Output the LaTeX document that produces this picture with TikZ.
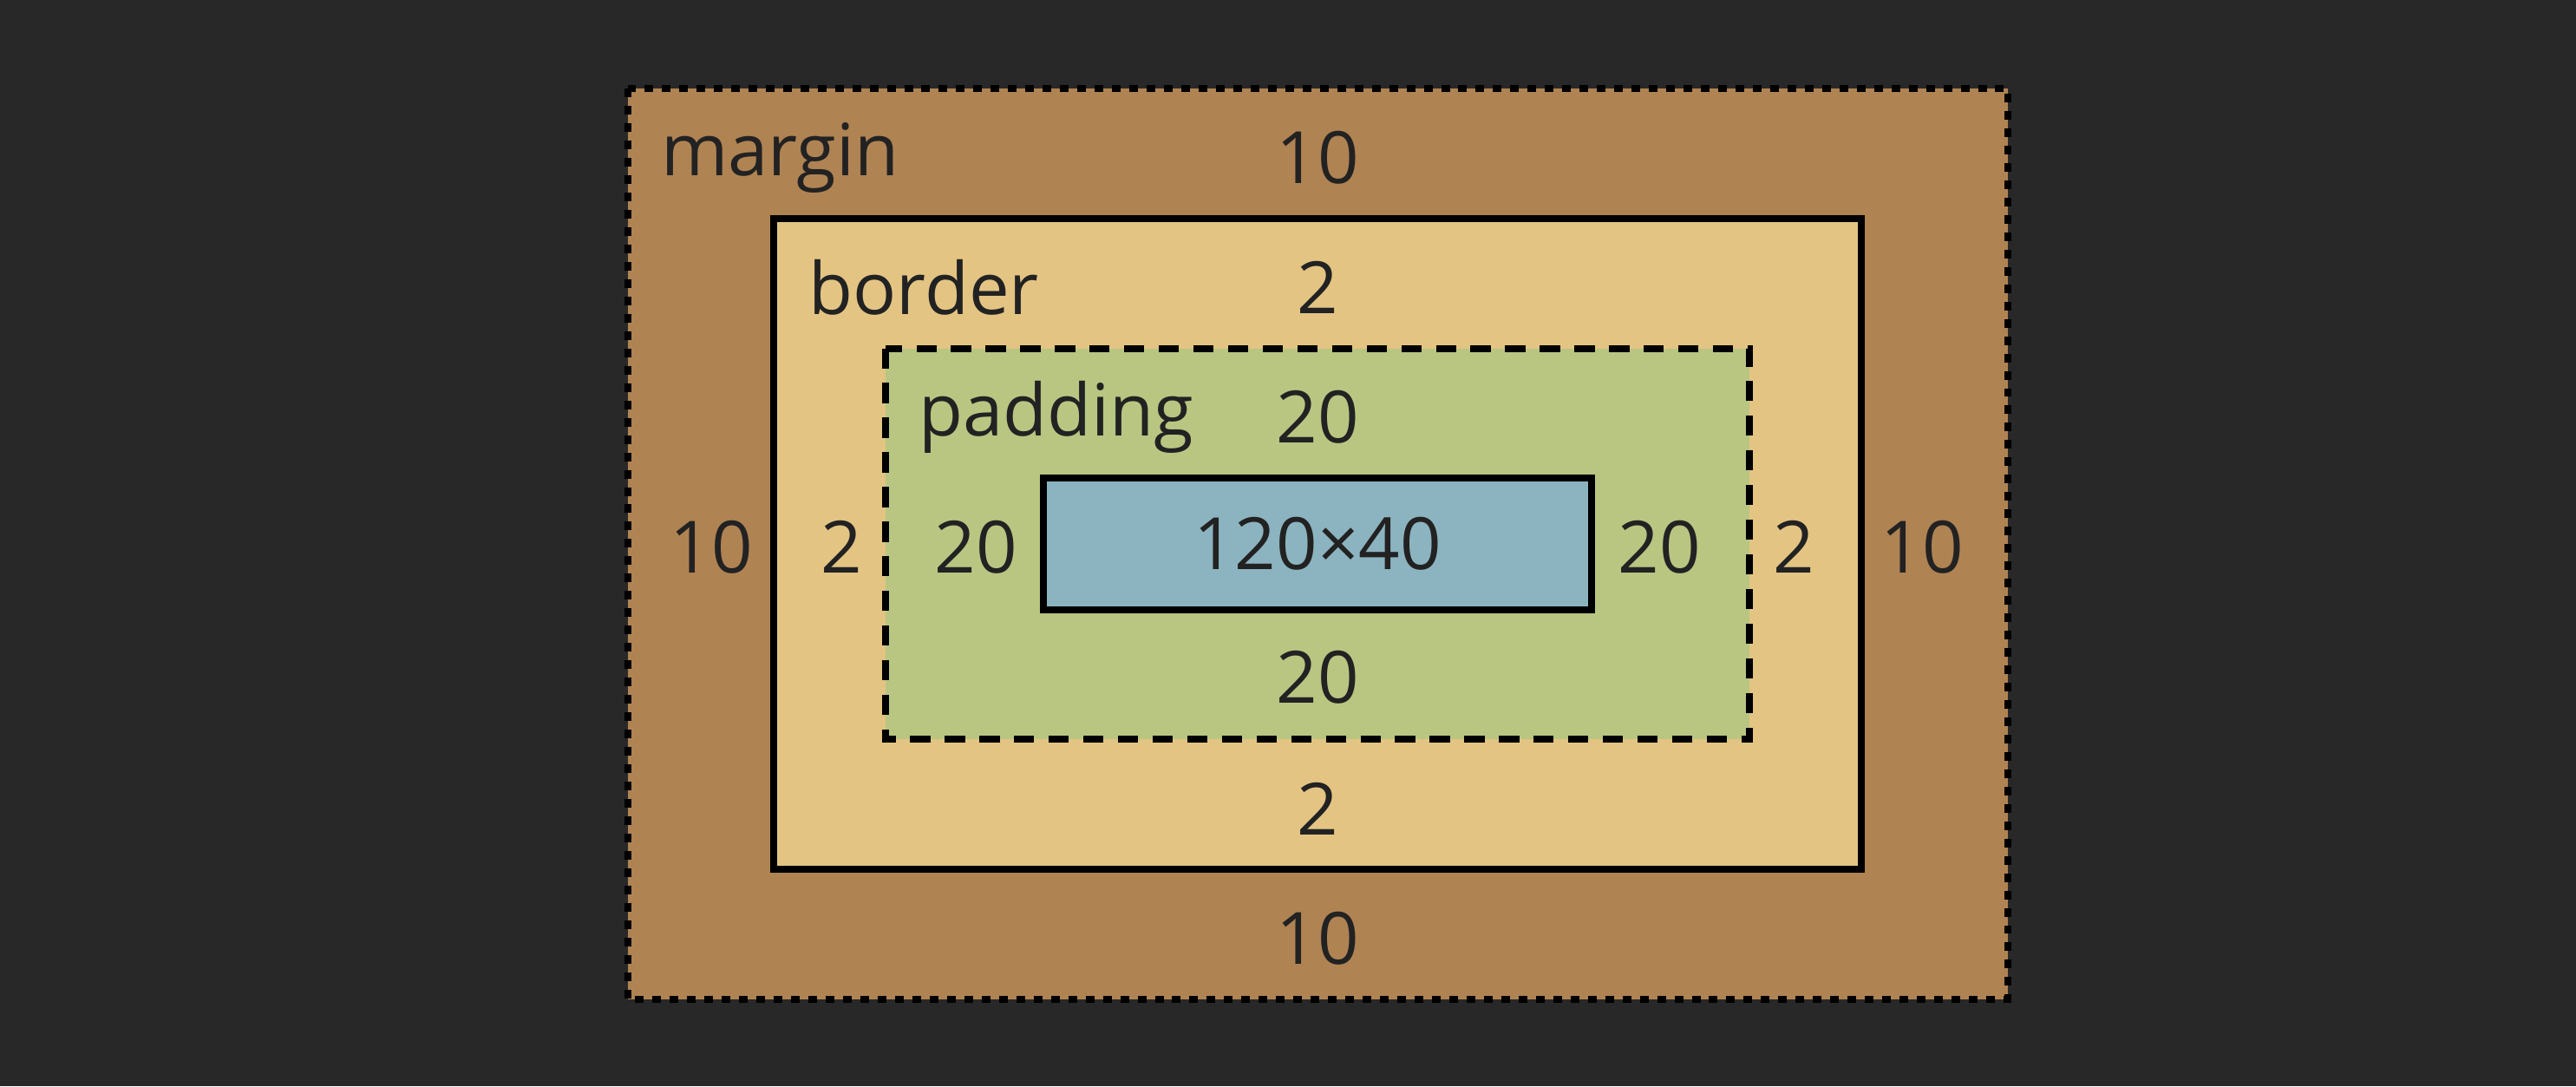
\documentclass[tikz,border=0pt]{standalone}
\usepackage{fontspec}
\setmainfont{Open Sans}
\definecolor{bg}{HTML}{282828}
\definecolor{mcol}{HTML}{B08353}
\definecolor{bcol}{HTML}{E3C483}
\definecolor{pcol}{HTML}{B8C682}
\definecolor{ccol}{HTML}{8CB4C0}
\definecolor{txt}{HTML}{222222}
\begin{document}
\begin{tikzpicture}[x=0.02cm,y=-0.02cm,
  lbl/.style={text=txt,font=\fontsize{25}{30}\selectfont,inner sep=0pt},
  box/.style={draw=black,line width=2.4pt}]
\fill[bg] (0,0) rectangle (1568,661);
\useasboundingbox (0,0) rectangle (1568,661);
\draw[box,fill=mcol,dash pattern=on 3pt off 3pt] (382,54) rectangle (1222,608);
\draw[box,fill=bcol] (471,133) rectangle (1133,529);
\draw[box,fill=pcol,dash pattern=on 7pt off 5pt] (539,212) rectangle (1065,450);
\node[box,fill=ccol,minimum width=334*0.02cm,minimum height=80*0.02cm,inner sep=0pt] (content) at (802,331) {};
\node[lbl] (c) at (content) {120×40};
\node[lbl,anchor=west] (ml) at (402,96) {margin};
\node[lbl,anchor=west] (bl) at (492,175) {border};
\node[lbl,anchor=west] (pl) at (559,254) {padding};
\node[lbl] (mt) at (802,96) {10};
\node[lbl] (mb) at (802,571) {10};
\node[lbl] (mL) at (433,333) {10};
\node[lbl] (mR) at (1170,333) {10};
\node[lbl] (bt) at (802,175) {2};
\node[lbl] (bb) at (802,492) {2};
\node[lbl] (bL) at (512,333) {2};
\node[lbl] (bR) at (1092,333) {2};
\node[lbl] (pt) at (802,254) {20};
\node[lbl] (pb) at (802,412) {20};
\node[lbl] (pL) at (594,333) {20};
\node[lbl] (pR) at (1010,333) {20};
\end{tikzpicture}
\end{document}
